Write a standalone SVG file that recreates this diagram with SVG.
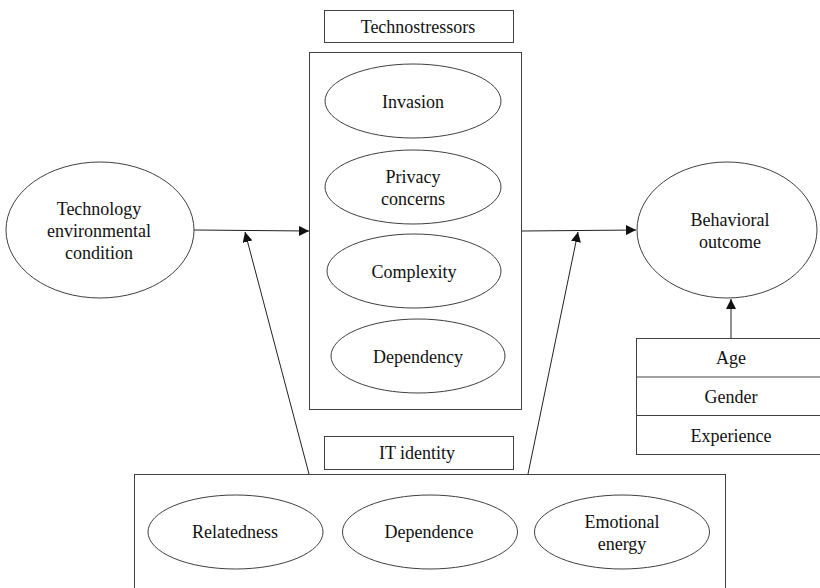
<svg xmlns="http://www.w3.org/2000/svg" width="820" height="588" viewBox="0 0 820 588">
<style>
.s{fill:none;stroke:#404040;stroke-width:1}
.w{fill:#fff;stroke:#404040;stroke-width:1}
.c{stroke:#222;stroke-width:1;fill:none}
text{font-family:'Liberation Serif','Times New Roman','DejaVu Serif',serif;font-size:18px;fill:#111;text-anchor:middle}
</style>
<defs>
<marker id="ah" viewBox="0 0 10 10" refX="10" refY="5" markerWidth="10" markerHeight="10" markerUnits="userSpaceOnUse" orient="auto">
<path d="M0,0 L10,5 L0,10 z" fill="#111"/>
</marker>
</defs>
<rect width="820" height="588" fill="#fff"/>
<g id="connectors">
<line class="c" x1="194" y1="230" x2="309" y2="231" marker-end="url(#ah)"/>
<line class="c" x1="522" y1="231" x2="636" y2="230" marker-end="url(#ah)"/>
<line class="c" x1="309" y1="474" x2="245" y2="232" marker-end="url(#ah)"/>
<line class="c" x1="528" y1="474" x2="578" y2="232" marker-end="url(#ah)"/>
<line class="c" x1="731" y1="338" x2="731" y2="299" marker-end="url(#ah)"/>
</g>
<g font-family="Liberation Serif, Times New Roman, DejaVu Serif, serif">
<g id="technostressors-label">
<rect class="w" x="324.5" y="10.5" width="189" height="32"/>
<text x="418" y="33">Technostressors</text>
</g>
<g id="technostressors">
<rect class="s" x="309.5" y="52.5" width="212" height="357"/>
</g>
<g id="invasion">
<ellipse class="s" cx="413" cy="101" rx="88" ry="37"/>
<text x="413" y="108">Invasion</text>
</g>
<g id="privacy">
<ellipse class="s" cx="413" cy="187" rx="88" ry="37"/>
<text x="413" y="183">Privacy</text>
<text x="413" y="205">concerns</text>
</g>
<g id="complexity">
<ellipse class="s" cx="414" cy="271" rx="87" ry="37"/>
<text x="414" y="278">Complexity</text>
</g>
<g id="dependency">
<ellipse class="s" cx="418" cy="356" rx="87" ry="37"/>
<text x="418" y="363">Dependency</text>
</g>
<g id="tech-env">
<ellipse class="s" cx="100" cy="230" rx="94" ry="68"/>
<text x="99" y="215">Technology</text>
<text x="99" y="237">environmental</text>
<text x="99" y="259">condition</text>
</g>
<g id="behavioral">
<ellipse class="s" cx="727" cy="230" rx="90" ry="68"/>
<text x="730" y="226">Behavioral</text>
<text x="730" y="248">outcome</text>
</g>
<g id="moderators">
<rect class="s" x="636.5" y="338.5" width="190" height="116"/>
<line class="s" x1="636.5" y1="377" x2="826" y2="377"/>
<line class="s" x1="636.5" y1="415.5" x2="826" y2="415.5"/>
<text x="731" y="364">Age</text>
<text x="731" y="403">Gender</text>
<text x="731" y="442">Experience</text>
</g>
<g id="it-identity-label">
<rect class="w" x="324.5" y="436.5" width="189" height="33"/>
<text x="417" y="459">IT identity</text>
</g>
<g id="it-identity">
<rect class="s" x="134.5" y="474.5" width="591" height="130"/>
</g>
<g id="relatedness">
<ellipse class="s" cx="235.5" cy="532" rx="87.5" ry="37"/>
<text x="235" y="538">Relatedness</text>
</g>
<g id="dependence">
<ellipse class="s" cx="430" cy="532" rx="87.5" ry="37"/>
<text x="429" y="538">Dependence</text>
</g>
<g id="emotional">
<ellipse class="s" cx="622" cy="532" rx="87.5" ry="37"/>
<text x="622" y="528">Emotional</text>
<text x="622" y="550">energy</text>
</g>
</g>
</svg>
